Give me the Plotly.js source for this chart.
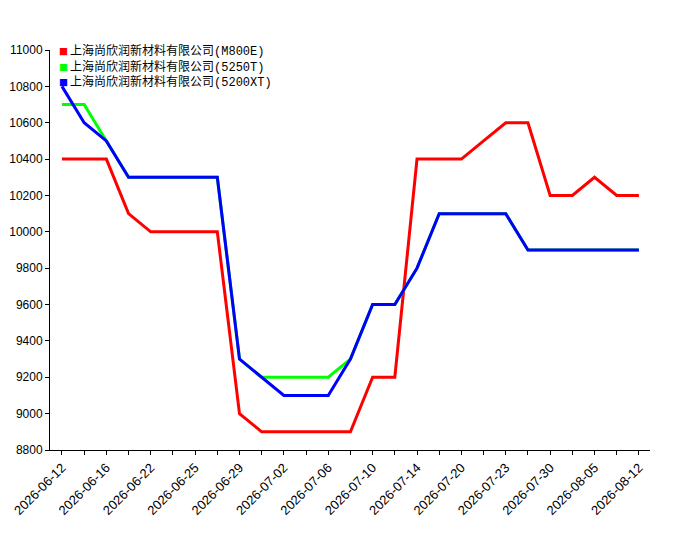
<!DOCTYPE html>
<html>
<head>
<meta charset="utf-8">
<script src="https://cdn.plot.ly/plotly-3.0.1.min.js"></script>
<style>
  html, body { margin: 0; padding: 0; background: #fff; }
  #chart { width: 700px; height: 550px; }
</style>
</head>
<body>
<div id="chart"></div>
<script>
const dates = [
  '2026-06-12', '2026-06-13', '2026-06-16', '2026-06-19', '2026-06-22',
  '2026-06-23', '2026-06-25', '2026-06-26', '2026-06-29', '2026-06-30',
  '2026-07-02', '2026-07-03', '2026-07-06', '2026-07-07', '2026-07-10',
  '2026-07-11', '2026-07-14', '2026-07-17', '2026-07-20', '2026-07-21',
  '2026-07-23', '2026-07-28', '2026-07-30', '2026-08-01', '2026-08-05',
  '2026-08-07', '2026-08-12'
];

const names = [
  '上海尚欣润新材料有限公司(M800E)',
  '上海尚欣润新材料有限公司(5250T)',
  '上海尚欣润新材料有限公司(5200XT)'
];

const m800e = [
  10400, 10400, 10400, 10100, 10000, 10000, 10000, 10000, 9000, 8900,
  8900, 8900, 8900, 8900, 9200, 9200, 10400, 10400, 10400, 10500,
  10600, 10600, 10200, 10200, 10300, 10200, 10200
];

const t5250 = [
  10700, 10700, 10500, 10300, 10300, 10300, 10300, 10300, 9300, 9200,
  9200, 9200, 9200, 9300, 9600, 9600, 9800, 10100, 10100, 10100,
  10100, 9900, 9900, 9900, 9900, 9900, 9900
];

const xt5200 = [
  10800, 10600, 10500, 10300, 10300, 10300, 10300, 10300, 9300, 9200,
  9100, 9100, 9100, 9300, 9600, 9600, 9800, 10100, 10100, 10100,
  10100, 9900, 9900, 9900, 9900, 9900, 9900
];

const colors = ['#ff0000', '#00ff00', '#0000ff'];
const series = [m800e, t5250, xt5200];

// label every other date, tick on every one
const tickText = dates.map((d, i) => i % 2 === 0 ? d : '');

const traces = series.map((ys, k) => ({
  x: dates,
  y: ys,
  name: names[k],
  type: 'scatter',
  mode: 'lines',
  line: {color: colors[k], width: 3},
  showlegend: false,
  hoverinfo: 'x+y+name'
}));

// legend drawn as one text block: small coloured square + name,
// the bracketed model code in a monospaced face like the original
const legendLines = names.map((n, k) => {
  const cut = n.indexOf('(');
  return '<span style="color:' + colors[k] + ';font-size:9px">■ </span>' +
    n.slice(0, cut) +
    '<span style="font-family:Liberation Mono, monospace">' + n.slice(cut) + '</span>';
});

const layout = {
  width: 700,
  height: 550,
  margin: {l: 50, r: 50, t: 50, b: 100},
  paper_bgcolor: '#fff',
  plot_bgcolor: '#fff',
  font: {family: 'Liberation Sans, Arial, sans-serif', size: 12, color: '#000'},
  xaxis: {
    type: 'category',
    range: [-0.54, 26.5],
    tickmode: 'array',
    tickvals: dates,
    ticktext: tickText,
    tickangle: -45,
    tickfont: {size: 13},
    ticks: 'outside',
    ticklen: 4,
    tickcolor: '#000',
    showline: true,
    linecolor: '#000',
    linewidth: 1,
    showgrid: false,
    zeroline: false
  },
  yaxis: {
    range: [8800, 11000],
    dtick: 200,
    tick0: 8800,
    tickformat: 'd',
    ticks: 'outside',
    ticklen: 4,
    tickcolor: '#000',
    showline: true,
    linecolor: '#000',
    linewidth: 1,
    showgrid: false,
    zeroline: false
  },
  annotations: [{
    xref: 'paper', yref: 'paper',
    x: 0.011, y: 1.027,
    xanchor: 'left', yanchor: 'top',
    showarrow: false,
    align: 'left',
    text: legendLines.join('<br>'),
    font: {family: 'Noto Sans CJK SC, sans-serif', size: 12, color: '#000'}
  }]
};

Plotly.newPlot('chart', traces, layout, {displayModeBar: false});
</script>
</body>
</html>
